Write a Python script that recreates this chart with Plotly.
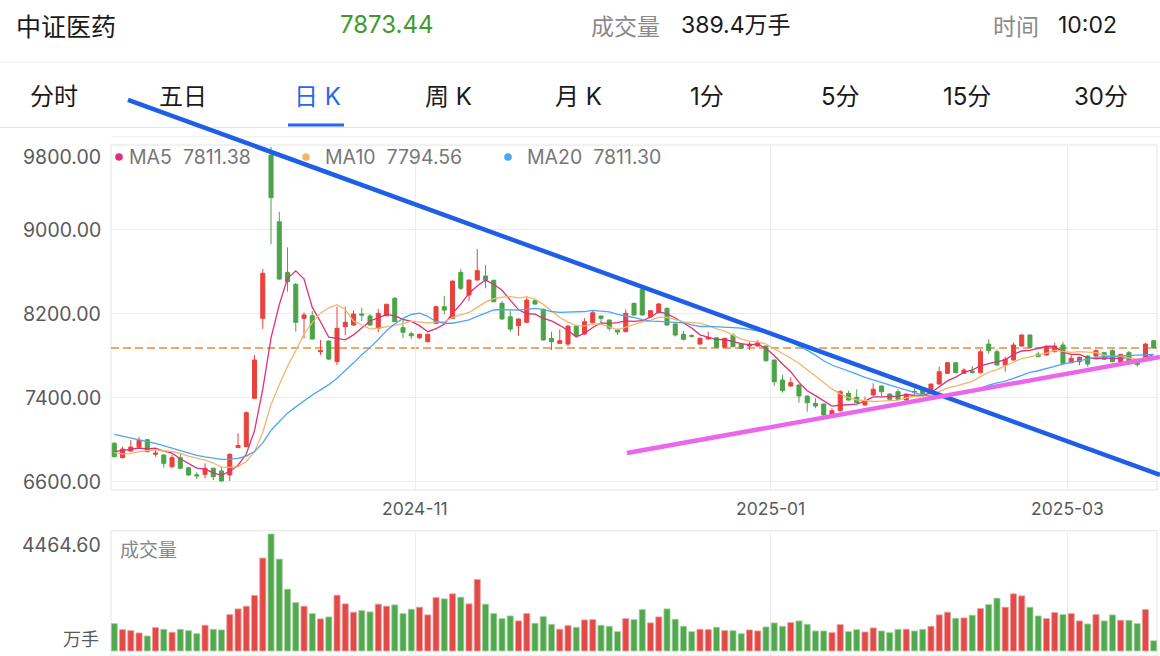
import plotly.graph_objects as go

W, H = 1160, 656

# ---------------- data ----------------
OPEN = [6966, 6829, 6892, 6930, 7000, 6861, 6854, 6743, 6829, 6733,
        6666, 6670, 6727, 6702, 6664, 6925, 6933, 7394, 8156, 9711,
        9076, 8594, 8480, 8156, 8181, 7838, 7940, 7743, 8076, 8092,
        8197, 8178, 8061, 8181, 8347, 8067, 8010, 7971, 7933, 8108,
        8267, 8156, 8594, 8378, 8521, 8559, 8518, 8299, 8171, 8086,
        8118, 8324, 8242, 7966, 7918, 7911, 8083, 8006, 8114, 8178,
        8140, 8051, 8029, 8299, 8432, 8171, 8210, 8251, 8102, 8004,
        7992, 7911, 7959, 7971, 7880, 7997, 7911, 7892, 7892, 7892,
        7759, 7569, 7511, 7521, 7416, 7346, 7340, 7235, 7276, 7442,
        7404, 7330, 7426, 7511, 7435, 7457, 7378, 7460, 7473, 7457,
        7530, 7632, 7733, 7632, 7654, 7638, 7911, 7838, 7711, 7759,
        7892, 7997, 7816, 7807, 7838, 7902, 7733, 7743, 7797, 7797,
        7829, 7848, 7711, 7829, 7766, 7752, 7943]
HIGH = [6978, 6933, 6997, 7026, 7006, 6918, 6862, 6854, 6870, 6740,
        6690, 6775, 6735, 6743, 6870, 7061, 7270, 7807, 8626, 9790,
        9171, 8832, 8490, 8213, 8226, 7950, 7945, 8267, 8267, 8232,
        8257, 8197, 8245, 8295, 8356, 8140, 8029, 8010, 8010, 8277,
        8371, 8515, 8626, 8525, 8816, 8664, 8525, 8321, 8226, 8155,
        8368, 8337, 8250, 8029, 8051, 8088, 8090, 8156, 8229, 8182,
        8146, 8060, 8242, 8305, 8442, 8235, 8305, 8260, 8108, 8035,
        8004, 7975, 8029, 7976, 7970, 8012, 7916, 7933, 7950, 7896,
        7764, 7616, 7594, 7526, 7421, 7394, 7345, 7299, 7473, 7465,
        7480, 7410, 7537, 7516, 7440, 7480, 7440, 7490, 7478, 7535,
        7695, 7740, 7738, 7680, 7702, 7861, 7956, 7861, 7790, 7924,
        8003, 8002, 7838, 7900, 7924, 7933, 7810, 7790, 7802, 7861,
        7834, 7861, 7818, 7845, 7771, 7924, 7950]
LOW = [6830, 6823, 6880, 6918, 6880, 6838, 6733, 6728, 6722, 6655,
       6626, 6632, 6616, 6600, 6607, 6920, 6930, 7390, 8054, 8861,
       8525, 8410, 8029, 7966, 7955, 7806, 7759, 7711, 7997, 8085,
       8130, 8085, 8023, 8175, 8120, 7966, 7959, 7959, 7928, 8100,
       8194, 8150, 8426, 8321, 8515, 8442, 8310, 8145, 8029, 7990,
       8110, 8285, 7945, 7854, 7912, 7892, 7982, 8000, 8108, 8114,
       8038, 7997, 8022, 8182, 8182, 8165, 8205, 8088, 7981, 7945,
       7975, 7905, 7954, 7875, 7875, 7880, 7866, 7854, 7886, 7745,
       7511, 7448, 7505, 7352, 7267, 7299, 7230, 7230, 7270, 7372,
       7346, 7325, 7420, 7416, 7370, 7380, 7372, 7430, 7430, 7452,
       7525, 7626, 7633, 7626, 7633, 7633, 7820, 7706, 7648, 7754,
       7887, 7875, 7786, 7800, 7833, 7722, 7728, 7710, 7695, 7792,
       7761, 7738, 7706, 7740, 7695, 7747, 7868]
CLOSE = [6838, 6911, 6930, 6994, 6886, 6873, 6775, 6829, 6728, 6664,
         6655, 6727, 6648, 6607, 6861, 6945, 7257, 7759, 8585, 9305,
         8530, 8505, 8118, 8188, 7959, 7848, 7768, 8061, 8118, 8197,
         8187, 8092, 8204, 8290, 8124, 8023, 7990, 8004, 8004, 8267,
         8235, 8511, 8442, 8521, 8610, 8518, 8314, 8150, 8054, 8150,
         8330, 8292, 7950, 7933, 7943, 8083, 7988, 8124, 8209, 8156,
         8061, 8025, 8204, 8188, 8188, 8229, 8292, 8092, 7997, 7956,
         7985, 7966, 7975, 7880, 7966, 7886, 7872, 7911, 7924, 7752,
         7552, 7467, 7543, 7416, 7352, 7321, 7235, 7276, 7457, 7378,
         7352, 7371, 7480, 7457, 7385, 7385, 7435, 7455, 7435, 7530,
         7648, 7733, 7638, 7664, 7638, 7838, 7848, 7711, 7766, 7902,
         7997, 7880, 7791, 7880, 7892, 7727, 7775, 7785, 7721, 7848,
         7766, 7743, 7813, 7745, 7715, 7911, 7873.44]
# closes of the 19 sessions before the first visible bar (needed for the moving averages)
PRE_CLOSE = [7290, 7320, 7260, 7240, 7210, 7250, 7190, 7180, 7170, 7150,
             7020, 6900, 6820, 6790, 6800, 6850, 6880, 6930, 6932]
VOLUME = [1046, 816, 778, 689, 574, 893, 829, 714, 829, 778,
          663, 982, 829, 804, 1390, 1607, 1709, 2117, 3546, 4464.6,
          3508, 2360, 1850, 1709, 1429, 1225, 1301, 2130, 1799, 1480,
          1543, 1492, 1786, 1709, 1760, 1429, 1595, 1671, 1378, 2041,
          1990, 2181, 2054, 1799, 2730, 1786, 1429, 1237, 1339, 1148,
          1429, 1059, 1314, 1020, 829, 969, 906, 1186, 1199, 982,
          944, 740, 1237, 1199, 1582, 1072, 1301, 1607, 1212, 944,
          740, 829, 816, 906, 778, 778, 663, 804, 765, 918,
          1072, 944, 1084, 1148, 1020, 765, 765, 702, 1008, 740,
          816, 727, 880, 765, 702, 829, 829, 765, 829, 944,
          1378, 1480, 1250, 1263, 1365, 1620, 1773, 2015, 1671, 2181,
          2105, 1671, 1339, 1237, 1467, 1390, 1429, 1148, 1033, 1390,
          1148, 1378, 1174, 1174, 1046, 1582, 389.4]

MONTH_LABELS = ["2024-11", "2025-01", "2025-03"]
MONTH_FIRST_BAR = [37, 80, 116]
Y_TICKS = [6600, 7400, 8200, 9000, 9800]
MA_PERIODS = [5, 10, 20]
MA_SHOWN = ["7811.38", "7794.56", "7811.30"]
VOL_MAX_LABEL = "4464.60"
LAST_PRICE = 7873.44
HEADER = {"name": "中证医药", "price": "7873.44", "vol_label": "成交量", "vol": "389.4万手",
          "time_label": "时间", "time": "10:02"}
TABS = ["分时", "五日", "日 K", "周 K", "月 K", "1分", "5分", "15分", "30分"]
# drawn trend lines: (bar index, price) endpoints
TREND_DOWN_BARS = [1.66, 126.76]
TREND_DOWN_PRICES = [10236, 6664]
TREND_UP_BARS = [62.15, 126.76]
TREND_UP_PRICES = [6873, 7788]

# ---------------- derived ----------------
N = len(CLOSE)
IDX = list(range(N))
ALL_CLOSE = PRE_CLOSE + CLOSE
P = len(PRE_CLOSE)


def moving_avg(n):
    out = []
    for i in range(N):
        seg = ALL_CLOSE[P + i - n + 1: P + i + 1]
        out.append(sum(seg) / n)
    return out


MAS = [moving_avg(n) for n in MA_PERIODS]

# ---------------- layout constants ----------------
FONT = "Inter, Noto Sans CJK SC, sans-serif"
CJK = "Noto Sans CJK SC, sans-serif"
RED = "#e8423e"
GREEN = "#4ba448"
VRED = "#e24a47"
VGREEN = "#52a84e"
MA_COLORS = ["#de2f7a", "#f2b66a", "#4ea6f2"]
GRID = "#ececec"
BORDER = "#e4e4e4"

PX_L, PX_R = 111, 1157
K_TOP, K_BOT = 145, 490
V_TOP, V_BOT = 532, 656
XR = [-0.4, 126.4]
YR = [6521, 9807]
VR = [-191, 4541]


def fx(px):
    return px / W


def fy(py):
    return 1 - py / H


def bar_px(b):
    return PX_L + (b - XR[0]) / (XR[1] - XR[0]) * (PX_R - PX_L)


def price_py(p):
    return K_BOT - (p - YR[0]) / (YR[1] - YR[0]) * (K_BOT - K_TOP)


fig = go.Figure()

fig.add_trace(go.Candlestick(
    x=IDX, open=OPEN, high=HIGH, low=LOW, close=CLOSE,
    increasing=dict(line=dict(color=RED, width=1), fillcolor=RED),
    decreasing=dict(line=dict(color=GREEN, width=1), fillcolor=GREEN),
    whiskerwidth=0, showlegend=False, hoverinfo="skip",
    xaxis="x", yaxis="y"))

for ma, col in zip(MAS, MA_COLORS):
    fig.add_trace(go.Scatter(x=IDX, y=ma, mode="lines", line=dict(color=col, width=1.3),
                             showlegend=False, hoverinfo="skip", xaxis="x", yaxis="y"))

vcolors = [VRED if c >= o else VGREEN for o, c in zip(OPEN, CLOSE)]
vlines = ["#f0a0a0" if c >= o else "#a8d4a6" for o, c in zip(OPEN, CLOSE)]
fig.add_trace(go.Bar(x=IDX, y=VOLUME, marker=dict(color=vcolors, line=dict(color=vlines, width=0.8)),
                     width=0.74, showlegend=False, hoverinfo="skip", xaxis="x2", yaxis="y2"))

grid_x = [b - 0.5 for b in MONTH_FIRST_BAR]

fig.update_layout(
    width=W, height=H, margin=dict(l=0, r=0, t=0, b=0),
    paper_bgcolor="white", plot_bgcolor="white",
    font=dict(family=FONT, color="#555555"),
    xaxis=dict(domain=[fx(PX_L), fx(PX_R)], range=XR, anchor="y",
               tickvals=grid_x, showticklabels=False, ticks="",
               showgrid=True, gridcolor=GRID, gridwidth=1, zeroline=False,
               rangeslider=dict(visible=False), fixedrange=True),
    yaxis=dict(domain=[fy(K_BOT), fy(K_TOP)], range=YR, anchor="x",
               tickvals=Y_TICKS, showticklabels=False, ticks="",
               showgrid=True, gridcolor=GRID, gridwidth=1, zeroline=False, fixedrange=True),
    xaxis2=dict(domain=[fx(PX_L), fx(PX_R)], range=XR, anchor="y2",
                tickvals=grid_x, showticklabels=False, ticks="",
                showgrid=True, gridcolor=GRID, zeroline=False, fixedrange=True),
    yaxis2=dict(domain=[fy(V_BOT), fy(V_TOP)], range=VR, anchor="x2",
                showticklabels=False, ticks="", showgrid=False, zeroline=False, fixedrange=True),
)

shapes = []
# separators and chart frames
shapes.append(dict(type="line", xref="paper", yref="paper", x0=0, x1=1, y0=fy(62), y1=fy(62),
                   line=dict(color="#eeeeee", width=1)))
shapes.append(dict(type="line", xref="paper", yref="paper", x0=0, x1=1, y0=fy(127.5), y1=fy(127.5),
                   line=dict(color="#e6e6e6", width=1)))
shapes.append(dict(type="line", xref="paper", yref="paper", x0=fx(PX_L), x1=1, y0=fy(136.7), y1=fy(136.7),
                   line=dict(color="#eeeeee", width=1)))
shapes.append(dict(type="rect", xref="x domain", yref="y domain", x0=0, x1=1, y0=0, y1=1,
                   line=dict(color=BORDER, width=1), layer="below"))
shapes.append(dict(type="rect", xref="x2 domain", yref="y2 domain", x0=0, x1=1, y0=0, y1=1.01,
                   line=dict(color=BORDER, width=1), layer="below"))
# tab underline
shapes.append(dict(type="rect", xref="paper", yref="paper", x0=fx(288), x1=fx(344), y0=fy(126.5), y1=fy(123.5),
                   line=dict(width=0), fillcolor="#2469ec"))
# last price dashed line
shapes.append(dict(type="line", xref="x domain", yref="y", x0=0, x1=1, y0=LAST_PRICE, y1=LAST_PRICE,
                   line=dict(color="#ea8a3c", width=1.5, dash="8px,4px"), layer="below"))
# trend lines (converted from bar/price to page coordinates so they can leave the plot area)
shapes.append(dict(type="line", xref="paper", yref="paper",
                   x0=fx(bar_px(TREND_DOWN_BARS[0])), x1=fx(bar_px(TREND_DOWN_BARS[1])),
                   y0=fy(price_py(TREND_DOWN_PRICES[0])), y1=fy(price_py(TREND_DOWN_PRICES[1])),
                   line=dict(color="#1f5fe6", width=4.5), layer="above"))
shapes.append(dict(type="line", xref="paper", yref="paper",
                   x0=fx(bar_px(TREND_UP_BARS[0])), x1=fx(bar_px(TREND_UP_BARS[1])),
                   y0=fy(price_py(TREND_UP_PRICES[0])), y1=fy(price_py(TREND_UP_PRICES[1])),
                   line=dict(color="#ea66ea", width=4.5), layer="above"))
# legend dots
for cx, col in zip([119, 306, 508], MA_COLORS):
    shapes.append(dict(type="circle", xref="paper", yref="paper",
                       x0=fx(cx - 3.8), x1=fx(cx + 3.8), y0=fy(157 + 3.8), y1=fy(157 - 3.8),
                       line=dict(width=0), fillcolor=col))
fig.update_layout(shapes=shapes)

ann = []


def text(x, y, s, size, color, anchor="left", family=FONT):
    ann.append(dict(x=fx(x), y=fy(y), xref="paper", yref="paper", text=s, showarrow=False,
                    xanchor=anchor, yanchor="middle", font=dict(size=size, color=color, family=family)))


# header
text(14, 25, HEADER["name"], 25, "#1a1a1a", family=CJK)
text(387, 25, HEADER["price"], 24, "#3f9a2c", "center")
text(589, 25, HEADER["vol_label"], 23, "#8a8a8a", family=CJK)
text(679, 25, HEADER["vol"], 23, "#1a1a1a")
text(991, 25, HEADER["time_label"], 23, "#8a8a8a", family=CJK)
text(1056, 25, HEADER["time"], 23, "#1a1a1a")
# tabs
tab_centers = [54, 183, 317, 448, 578, 707, 840, 967, 1101]
for i, (t, cx) in enumerate(zip(TABS, tab_centers)):
    text(cx, 96, t, 24, "#2469ec" if i == 2 else "#1a1a1a", "center")

# y labels (price)
for v in Y_TICKS:
    yy = price_py(v)
    if v == Y_TICKS[-1]:
        yy = 157
    text(103, yy, f"{v:.2f}", 19.5, "#5a5a5a", "right")
# x labels
for lab, b in zip(MONTH_LABELS, MONTH_FIRST_BAR):
    ann.append(dict(x=b - 0.5, y=fy(508), xref="x", yref="paper", text=lab, showarrow=False,
                    xanchor="center", yanchor="middle", font=dict(size=17.5, color="#5a5a5a", family=FONT)))
# MA legend
for (n, val, x0) in zip(MA_PERIODS, MA_SHOWN, [127, 323, 525]):
    text(x0, 157, f"MA{n}&nbsp; {val}", 19.5, "#777777")
# volume labels
text(103, 545, VOL_MAX_LABEL, 19.5, "#5a5a5a", "right")
text(101, 638, "万手", 18, "#5a5a5a", "right", family=CJK)
text(118, 548, "成交量", 19, "#888888", family=CJK)

fig.update_layout(annotations=ann)

fig.write_html("out.html")
